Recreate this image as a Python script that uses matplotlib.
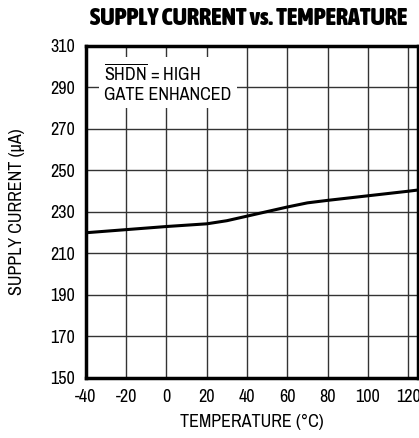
import numpy as np
import matplotlib.pyplot as plt

plt.rcParams['font.family'] = ['Archivo Narrow', 'DejaVu Sans']
plt.rcParams['axes.unicode_minus'] = False
plt.rcParams['mathtext.fontset'] = 'custom'
plt.rcParams['mathtext.rm'] = 'Archivo Narrow'

# data
temp = [-40, -20, 0, 20, 30, 40, 50, 60, 70, 80, 100, 120, 125]
current = [220, 221.5, 223, 224.3, 225.8, 228, 230.2, 232.4, 234.4, 235.6, 237.8, 240, 240.6]
xticks = [-40, -20, 0, 20, 40, 60, 80, 100, 120]
yticks = [150, 170, 190, 210, 230, 250, 270, 290, 310]

fig = plt.figure(figsize=(4.19, 4.38), dpi=100)
ax = fig.add_axes([0.205, 0.137, 0.793, 0.758])

ax.plot(temp, current, color='black', lw=2.2, zorder=3)

ax.set_xlim(-40, 125)
ax.set_ylim(150, 310)
ax.set_xticks(xticks)
ax.set_yticks(yticks)
ax.tick_params(length=0, labelsize=13, pad=8)
ax.grid(True, color='#333333', lw=1)
for s in ax.spines.values():
    s.set_linewidth(2.5)

ax.text(0.055, 0.95, r'$\overline{\mathrm{SHDN}}$ = HIGH' + '\nGATE ENHANCED',
        transform=ax.transAxes, fontsize=13, va='top', ha='left', linespacing=1.2,
        bbox=dict(facecolor='white', edgecolor='none', pad=4), zorder=4)

ax.set_xlabel('TEMPERATURE (°C)', fontsize=13, labelpad=6)
ax.set_ylabel('SUPPLY CURRENT (µA)', fontsize=13, labelpad=18)
fig.text(0.594, 0.958, 'SUPPLY CURRENT vs. TEMPERATURE', ha='center', va='center',
         fontsize=17.5, fontweight='black', family=['Asap Condensed', 'Archivo Narrow'])

fig.savefig('out.png', dpi=100)
